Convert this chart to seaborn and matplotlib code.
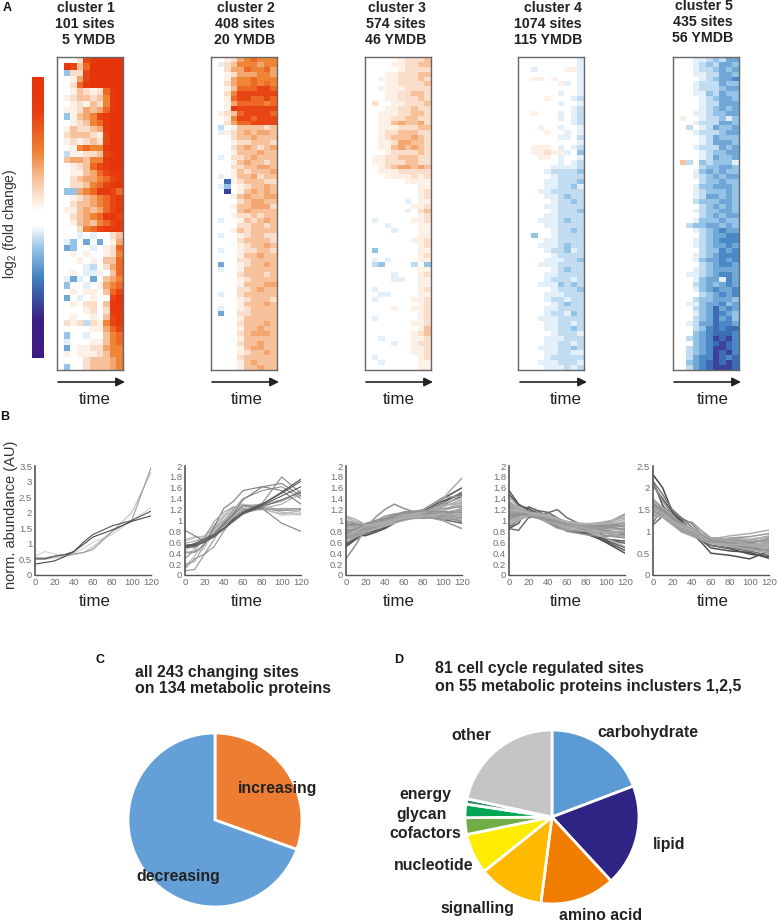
import matplotlib
matplotlib.use('Agg')
import matplotlib.pyplot as plt
import numpy as np
import pandas as pd
import seaborn as sns
from matplotlib.colors import LinearSegmentedColormap
from matplotlib.patches import FancyArrowPatch

W, H = 777, 924

sns.set_theme(style='white')
plt.rcParams['font.family'] = ['Liberation Sans', 'DejaVu Sans']
plt.rcParams['mathtext.default'] = 'regular'

# Heatmap rows: 0 white, 1-9 orange to red, a-g pale blue to navy
CLUSTER1 = [
    "0002789999", "0873699999", "0c22799999", "0014799999", "0026899999",
    "0013212689", "0123323589", "0012132589", "0112434689", "0c13457899",
    "0012356899", "0132234899", "0233321799", "0121232799", "0015655899",
    "0b11223789", "0344355899", "0012367899", "0011346788", "0023445678",
    "0022356789", "0cc4568876", "0012345678", "0023345678", "0113434678",
    "0023456887", "0013435678", "0002567888", "000a0a0023", "0ac0d0d014",
    "0dc00a0126", "0010100125", "0001010336", "0000ab0246", "0010aa1036",
    "0ada0d0345", "0c00a01456", "0010110367", "0d0a010079", "0010220389",
    "0000120288", "0010010378", "0212b21578", "0000011467", "0c00a00356",
    "0a00011356", "0d01122455", "0101112355", "0000233345", "0c00233345",
]
CLUSTER2 = [
    "0012456555", "0a23555455", "0024465564", "0012444554", "0014556555",
    "0024556565", "0013666776", "0025777777", "0016776676", "0014666656",
    "0018777777", "0123677776", "0015776777", "0024667777", "0b01333323",
    "0a12343443", "0002334333", "0001223332", "0002343234", "0001333433",
    "0a02234333", "0001343323", "0002233443", "0001323334", "0a01334233",
    "00f1233322", "0ac0123343", "00g0134343", "0001343344", "0000234433",
    "0001334442", "0000343333", "0001223233", "0a00132343", "0000223323",
    "0001323333", "0a00123322", "0000233332", "0000123343", "0a00122332",
    "0000133433", "0000223333", "0d00123343", "0a00133333", "0000233323",
    "0000123333", "0000133344", "0000223433", "0a00233333", "0000123332",
    "0000133343", "0a00123333", "0d00223333", "0000133333", "0000233343",
    "0000133433", "0000234443", "0000133333", "0000233433", "0000134433",
    "0000123343", "0000233333", "0000134333", "0000133433",
]
CLUSTER3 = [
    "0000012223", "0000112233", "0000012222", "0001122233", "0011122232",
    "0001122223", "0011112222", "0001122332", "0001122232", "0200112223",
    "0001122322", "0011122332", "0011223322", "0011343342", "0011122233",
    "0012233322", "0012333432", "0011244332", "0011343432", "0001222232",
    "0112233322", "0112223322", "0012344343", "0011122222", "0001111212",
    "0000001111", "0000000011", "0000000012", "0000000012", "000000a011",
    "0000000112", "000000a023", "0000000012", "0a00000112", "000a000011",
    "0000a00011", "0000000011", "0000000112", "0000000012", "0c00000011",
    "0000000012", "0a0a000011", "0bc0000b0c", "0000000011", "0000a00012",
    "0000aa0011", "0000000011", "0a00000012", "00aa000011", "0a00000112",
    "0000000012", "0000100112", "0000000012", "0a00000012", "0000000112",
    "0000000013", "0000000123", "00a0000112", "0000a00122", "0000000112",
    "0000000112", "0a00000012", "00a0000011", "0000000011",
]
CLUSTER4 = [
    "000000000a", "000000000a", "00a000011a", "000000000a", "001101000a",
    "0000001a0a", "000000000a", "000000a00a", "00001000ab", "000000a00a",
    "00000000ab", "001000a0ab", "000000a0ab", "00000000ab", "000100a00a",
    "0000100a0a", "000000aa0b", "000000000a", "001110a0ab", "0011211a0c",
    "000110a00a", "000000a0ab", "00000aaaab", "0000abbbbc", "00000abbbb",
    "0000aabbbc", "0000aabbca", "000aabbbbb", "0000aabcbb", "00000abbcb",
    "0000aabbbb", "00000abbbc", "0000aabbbb", "000aaabcbb", "0000aabbbb",
    "00000abbcb", "00c00abbbb", "0000aabbbb", "000aaabcbb", "0000abbcab",
    "00000abbbb", "0000aaabbc", "000aaabbbb", "00000abcbb", "0000aabbbb",
    "0000abbbab", "000aaacbcb", "00000abbbc", "0000aaabbb", "0000abbabb",
    "00000abcbb", "0000aabbbb", "0000abbacb", "000aaabbbb", "0000aabbab",
    "0000aabbcb", "00000abbba", "0000aaabbb", "0000aabbab", "000aaabbcb",
    "0000aabbaa", "0000abbbbb", "000aaabbba", "0000aaabab",
]
CLUSTER5 = [
    "000aabcbdd", "000abcbddc", "000abbcdcd", "000aabbddc", "0000abcdde",
    "000abbbdcc", "000abbbcdd", "000aacbdcc", "0000abcddc", "0000abbddd",
    "0000abcdcd", "000aabccdd", "0100abbcac", "000abbbddc", "00b0abdccd",
    "000abbbcdd", "0000abdccc", "0000abdddc", "000abbbdcd", "0000abccdd",
    "0000abdccd", "03b0cbccca", "0000bccddc", "000acdcdcc", "000abcdcdd",
    "0000bccdcc", "000accdddc", "000abcccdc", "000abddcdc", "000bcccddc",
    "0000bcdcdc", "000abccddc", "0000bcdcdd", "000acccdcc", "00bccddcdc",
    "000abcdedd", "0000bcddee", "000abcdeee", "000abcdded", "0000bccede",
    "000abcdeee", "000acddede", "0000bcdeed", "000abcdddd", "00aabcdeed",
    "000acddaed", "000bcdcded", "000acdedde", "0000bcdede", "000bccdddc",
    "00aacddecd", "000bcdfded", "000acdfedc", "000bcdfdec", "00abddfeed",
    "000bcefeff", "000cdefffe", "00bcdegfge", "000cdefgfe", "00bcdeggfe",
    "00bcdegfge", "00bdeegfef", "00cdefgfgf", "00bdefgggf",
]
CLUSTERS = [CLUSTER1, CLUSTER2, CLUSTER3, CLUSTER4, CLUSTER5]
LEVELS = {'0': 0, '1': 0.9, '2': 1.5, '3': 2.4, '4': 3.2, '5': 4.2, '6': 5.2, '7': 6.5, '8': 7.5, '9': 9.0,
          'a': -0.9, 'b': -1.4, 'c': -2.0, 'd': -2.8, 'e': -3.6, 'f': -4.4, 'g': -5.6}
HEADERS = [
    ["cluster 1", "101 sites", "5 YMDB"],
    ["cluster 2", "408 sites", "20 YMDB"],
    ["cluster 3", "574 sites", "46 YMDB"],
    ["cluster 4", "1074 sites", "115 YMDB"],
    ["cluster 5", "435 sites", "56 YMDB"],
]

# Abundance traces read by eye, one row per site
TIMES = [0, 10, 20, 30, 40, 50, 60, 80, 100, 120]
TRACES1 = [
    [.60, .75, .68, .65, .70, .85, 1.05, 1.30, 1.75, 2.15],
    [.50, .50, .55, .60, .65, .72, .90, 1.40, 2.00, 3.30],
    [.55, .55, .60, .65, .68, .72, .82, 1.40, 1.75, 3.45],
    [.52, .52, .60, .65, .75, 1.05, 1.30, 1.58, 1.75, 2.05],
    [.35, .40, .45, .58, .75, .98, 1.22, 1.45, 1.72, 1.90],
]
TRACES2 = [
    [.62, .68, .72, .82, .95, 1.12, 1.22, 1.22, 1.12, 1.10],
    [.30, .50, .70, .90, 1.05, 1.18, 1.28, 1.25, 1.20, 1.15],
    [.15, .35, .60, .85, 1.08, 1.22, 1.30, 1.25, 1.15, 1.12],
    [.58, .62, .68, .78, .92, 1.08, 1.20, 1.22, 1.30, 1.50],
    [.45, .55, .72, .92, 1.10, 1.22, 1.28, 1.30, 1.38, 1.45],
    [.12, .30, .38, .65, .95, 1.20, 1.40, 1.55, 1.62, 1.40],
    [.65, .70, .70, .85, 1.05, 1.18, 1.15, 1.20, 1.12, 1.18],
    [.40, .42, .48, .80, 1.10, 1.25, 1.30, 1.22, 1.10, 1.12],
    [.20, .25, .55, .85, 1.00, 1.15, 1.25, 1.28, 1.35, 1.55],
    [.55, .50, .62, .80, .98, 1.12, 1.22, 1.25, 1.20, 1.22],
    [.08, .10, .38, .52, .80, 1.05, 1.18, 1.22, 1.18, 1.20],
    [.82, .72, .62, .75, .95, 1.10, 1.28, 1.22, .95, .80],
    [.42, .42, .55, .88, 1.22, 1.35, 1.55, 1.62, 1.55, 1.30],
    [.50, .55, .62, .75, .92, 1.12, 1.38, 1.62, 1.68, 1.45],
    [.52, .55, .62, .75, .90, 1.05, 1.18, 1.32, 1.80, 1.50],
    [.30, .45, .68, .98, 1.15, 1.25, 1.22, 1.20, 1.22, 1.22],
    [.55, .56, .62, .72, .85, 1.02, 1.15, 1.30, 1.50, 1.72],
    [.52, .54, .60, .70, .84, 1.00, 1.14, 1.30, 1.52, 1.76],
    [.52, .58, .66, .74, .86, 1.02, 1.12, 1.28, 1.45, 1.62],
    [.50, .52, .62, .72, .84, .98, 1.12, 1.25, 1.38, 1.52],
]
TRACES3 = [
    [.52, .65, .78, .82, .86, .96, 1.05, 1.18, 1.40, 1.60],
    [.58, .68, .75, .80, .88, .98, 1.08, 1.15, 1.32, 1.52],
    [.72, .74, .72, .78, .85, .95, 1.05, 1.15, 1.28, 1.45],
    [.65, .72, .80, .85, .92, 1.00, 1.08, 1.12, 1.10, .98],
    [.76, .78, .82, .88, .94, 1.02, 1.05, 1.08, 1.02, .95],
    [.55, .68, .82, .92, .95, 1.02, 1.06, 1.18, 1.36, 1.48],
    [.30, .55, .85, 1.05, 1.20, 1.30, 1.22, 1.10, 1.10, 1.05],
    [1.08, 1.02, .92, .88, .90, .95, 1.02, 1.20, 1.40, 1.78],
    [1.00, .95, .88, .92, .98, 1.08, 1.12, 1.20, 1.42, 1.45],
    [.88, .88, .92, .95, 1.00, 1.05, 1.10, 1.12, 1.18, 1.28],
    [.82, .85, .88, .92, .96, 1.02, 1.06, 1.10, 1.12, 1.22],
    [.92, .90, .88, .90, .95, 1.00, 1.06, 1.12, 1.18, 1.35],
    [.70, .76, .84, .88, .92, 1.00, 1.02, 1.06, 1.12, 1.15],
    [.78, .82, .86, .90, .98, 1.06, 1.08, 1.05, 1.08, 1.12],
    [.90, .92, .92, .96, 1.02, 1.06, 1.08, 1.06, 1.02, 1.05],
    [.66, .74, .82, .86, .90, .96, 1.00, 1.08, 1.18, 1.30],
    [.96, .94, .90, .93, 1.00, 1.04, 1.10, 1.14, 1.22, 1.25],
    [.74, .78, .88, .95, 1.04, 1.08, 1.12, 1.10, 1.08, 1.02],
    [.84, .82, .84, .88, .94, .98, 1.02, 1.10, 1.15, 1.18],
    [.60, .70, .78, .84, .90, 1.00, 1.06, 1.14, 1.25, 1.38],
    [.80, .86, .92, .98, 1.08, 1.12, 1.14, 1.08, 1.00, .85],
    [.86, .88, .86, .90, .96, 1.04, 1.08, 1.08, 1.14, 1.20],
    [.94, .92, .94, .98, 1.02, 1.08, 1.14, 1.16, 1.10, 1.10],
    [.72, .80, .90, .90, .96, 1.02, 1.08, 1.16, 1.28, 1.32],
    [.68, .76, .86, .92, 1.00, 1.04, 1.04, 1.04, 1.06, .98],
    [.88, .86, .90, .94, .98, 1.02, 1.06, 1.14, 1.30, 1.42],
    [.78, .84, .94, 1.00, 1.04, 1.10, 1.16, 1.18, 1.16, 1.15],
    [1.05, .98, .92, .90, .94, 1.00, 1.04, 1.08, 1.12, 1.08],
]
TRACES4 = [
    [.85, .95, 1.25, 1.18, 1.05, .95, .85, .75, .62, .45],
    [1.48, 1.28, 1.22, 1.12, 1.02, .92, .85, .78, .60, .40],
    [1.55, 1.30, 1.18, 1.10, 1.00, .92, .84, .76, .64, .50],
    [.88, 1.00, 1.15, 1.18, 1.15, 1.05, .95, .80, .66, .58],
    [1.25, 1.15, 1.10, 1.05, .98, .88, .82, .76, .66, .62],
    [.85, .82, 1.05, 1.08, 1.14, 1.20, 1.05, .88, .72, .70],
    [1.30, 1.25, 1.15, 1.08, 1.00, .90, .80, .74, .70, .75],
    [1.42, 1.25, 1.15, 1.10, 1.02, .92, .84, .80, .68, .52],
    [1.20, 1.18, 1.12, 1.05, .96, .86, .82, .80, .78, .68],
    [.95, 1.02, 1.10, 1.08, 1.05, 1.00, .94, .88, .90, .98],
    [1.15, 1.14, 1.12, 1.10, 1.06, .98, .92, .90, .94, 1.12],
    [1.05, 1.08, 1.12, 1.12, 1.08, 1.00, .94, .86, .82, .85],
    [1.28, 1.20, 1.14, 1.08, 1.00, .94, .90, .84, .78, .72],
    [1.00, 1.05, 1.08, 1.08, 1.02, .96, .90, .84, .80, .78],
    [1.12, 1.12, 1.10, 1.08, 1.04, .98, .92, .90, .90, .95],
    [.92, 1.00, 1.08, 1.10, 1.08, 1.02, .98, .92, .94, 1.02],
    [1.35, 1.22, 1.15, 1.12, 1.05, .96, .90, .82, .72, .68],
    [1.18, 1.15, 1.10, 1.04, .98, .92, .88, .86, .85, .82],
    [1.08, 1.10, 1.12, 1.14, 1.10, 1.04, .96, .88, .82, .75],
    [1.22, 1.16, 1.12, 1.06, 1.02, .96, .90, .92, .98, 1.05],
    [1.02, 1.08, 1.15, 1.12, 1.06, 1.00, .92, .86, .86, .90],
    [1.26, 1.20, 1.16, 1.12, 1.04, .94, .86, .80, .78, .80],
    [1.10, 1.12, 1.10, 1.06, 1.02, .98, .94, .90, .92, .88],
    [.98, 1.04, 1.10, 1.12, 1.10, 1.04, .98, .94, .96, 1.08],
    [1.16, 1.14, 1.08, 1.04, 1.00, .96, .92, .88, .88, .92],
    [1.32, 1.22, 1.14, 1.10, 1.06, 1.00, .94, .86, .76, .70],
    [1.06, 1.10, 1.14, 1.10, 1.04, .98, .94, .92, .88, .84],
    [1.20, 1.18, 1.14, 1.10, 1.06, 1.02, .96, .92, .94, .96],
]
TRACES5 = [
    [2.30, 2.00, 1.45, 1.25, 1.00, .85, .68, .60, .48, .42],
    [2.15, 1.60, 1.30, 1.15, .95, .75, .50, .45, .37, .55],
    [1.15, 1.35, 1.40, 1.20, 1.00, .82, .68, .62, .55, .45],
    [1.20, 1.55, 1.42, 1.30, 1.18, .95, .78, .72, .60, .58],
    [2.05, 1.75, 1.45, 1.20, .95, .80, .62, .55, .52, .38],
    [2.15, 1.85, 1.50, 1.30, 1.10, .92, .78, .70, .60, .50],
    [2.10, 1.70, 1.38, 1.15, 1.00, .88, .75, .65, .58, .72],
    [1.75, 1.55, 1.35, 1.18, 1.05, .88, .82, .90, .95, 1.03],
    [1.65, 1.48, 1.30, 1.05, .90, .82, .78, .85, .88, .95],
    [1.55, 1.45, 1.25, 1.02, .92, .85, .85, .82, .78, .90],
    [1.50, 1.40, 1.20, 1.00, 1.05, .92, .80, .72, .60, .52],
    [1.45, 1.38, 1.22, 1.10, 1.00, .88, .78, .74, .68, .60],
    [1.60, 1.50, 1.30, 1.15, 1.02, .90, .76, .70, .65, .70],
    [1.40, 1.35, 1.18, 1.05, .98, .86, .80, .78, .74, .80],
    [1.55, 1.42, 1.20, 1.05, .95, .84, .74, .68, .62, .66],
    [1.48, 1.36, 1.25, 1.12, 1.06, .94, .84, .80, .72, .68],
    [1.70, 1.52, 1.32, 1.18, 1.22, 1.02, .85, .82, .76, .78],
    [1.35, 1.32, 1.15, .98, .90, .80, .72, .66, .58, .52],
    [1.52, 1.44, 1.28, 1.12, 1.00, .86, .78, .76, .72, .85],
    [1.44, 1.40, 1.22, 1.08, 1.02, .90, .82, .76, .66, .62],
    [1.58, 1.46, 1.26, 1.10, .96, .82, .76, .72, .70, .74],
    [1.38, 1.34, 1.20, 1.06, .94, .84, .80, .84, .82, .88],
    [1.62, 1.48, 1.34, 1.16, 1.04, .92, .80, .74, .64, .56],
    [1.50, 1.42, 1.24, 1.10, 1.04, .88, .74, .70, .68, .76],
    [1.46, 1.38, 1.18, 1.02, .92, .82, .76, .74, .76, .82],
    [1.56, 1.40, 1.22, 1.14, 1.08, .96, .84, .78, .70, .64],
]
TRACES = [TRACES1, TRACES2, TRACES3, TRACES4, TRACES5]
TRACE_GREYS = [
    ['#d2d2d2', '#bdbdbd', '#9a9a9a', '#555555', '#484848'],
    ['#c8c8c8', '#c0c0c0', '#b8b8b8', '#a8a8a8', '#c0c0c0', '#909090', '#b8b8b8', '#c4c4c4', '#a0a0a0', '#b0b0b0',
     '#909090', '#808080', '#7c7c7c', '#7c7c7c', '#8a8a8a', '#a0a0a0', '#5a5a5a', '#505050', '#5a5a5a', '#666666'],
    ['#555555', '#666666', '#555555', '#777777', '#666666', '#555555'],
    ['#5a5a5a', '#505050', '#5a5a5a', '#666666', '#5a5a5a', '#707070'],
    ['#484848', '#505050', '#707070', '#808080', '#505050', '#777777'],
]
LIGHT_GREYS = ['#9a9a9a', '#a8a8a8', '#929292', '#adadad']
TRACE_WIDTHS = [0.8, 0.8, 1.1, 1.1, 1.1]
YTICKS = [
    [0, .5, 1, 1.5, 2, 2.5, 3, 3.5],
    [0, .2, .4, .6, .8, 1, 1.2, 1.4, 1.6, 1.8, 2],
    [0, .2, .4, .6, .8, 1, 1.2, 1.4, 1.6, 1.8, 2],
    [0, .2, .4, .6, .8, 1, 1.2, 1.4, 1.6, 1.8, 2],
    [0, .5, 1, 1.5, 2, 2.5],
]
XTICKS = [0, 20, 40, 60, 80, 100, 120]

PIE_C_LABELS = ["increasing", "decreasing"]
PIE_C_VALUES = [30.5, 69.5]
PIE_C_COLORS = ['#ed7d31', '#659fd8']
PIE_D_LABELS = ["carbohydrate", "lipid", "amino acid", "signalling", "nucleotide",
                "cofactors", "glycan", "energy", "other"]
PIE_D_VALUES = [19.2, 18.9, 13.9, 12.2, 7.5, 3.1, 2.5, 1.0, 21.6]
PIE_D_COLORS = ['#5b9bd5', '#2e2483', '#f07d00', '#ffb900', '#ffec00',
                '#70ad47', '#00a651', '#2e8b6a', '#c4c4c4']


def place(left, top, right, bottom):
    return fig.add_axes([left / W, 1 - bottom / H, (right - left) / W, (bottom - top) / H])


def label(x, y, text, **kw):
    kw.setdefault('ha', 'center')
    kw.setdefault('va', 'center')
    kw.setdefault('color', '#222222')
    fig.text(x / W, 1 - y / H, text, **kw)


def decode(rows):
    return np.array([[LEVELS[c] for c in row] for row in rows], dtype=float)


fig = plt.figure(figsize=(W / 100, H / 100), dpi=100)

# log2 colour scale, nodes taken from the bar on the left of panel A
cmap = LinearSegmentedColormap.from_list('fold', [
    (0.0, '#3f1c84'), (0.135, '#3c1f85'), (0.28, '#3d7cbf'), (0.384, '#8fc0e5'),
    (0.473, '#ffffff'), (0.52, '#ffffff'), (0.616, '#f8cdb0'), (0.74, '#ef7f2f'),
    (0.883, '#e63c0e'), (1.0, '#e5330a'),
])

# A: heatmaps
heat_left = [57, 211, 365, 518, 673]
header_right = [115, 275, 426, 582, 733]
header_top = [8, 8, 8, 8, 6]
arrow_left = [58, 212, 366, 520, 674]
time_x = [95, 247, 399, 566, 713]
cbar_ax = place(32, 77, 44, 358)
for i, rows in enumerate(CLUSTERS):
    ax = place(heat_left[i], 57, heat_left[i] + 66, 370)
    sns.heatmap(decode(rows), ax=ax, cmap=cmap, vmin=-9, vmax=9, xticklabels=False, yticklabels=False,
                cbar=i == 0, cbar_ax=cbar_ax if i == 0 else None, cbar_kws={'ticks': []})
    for s in ax.spines.values():
        s.set_visible(True)
        s.set_color('#666666')
        s.set_linewidth(1)
    for j, line in enumerate(HEADERS[i]):
        label(header_right[i], header_top[i] + j * 16, line, ha='right', fontsize=10.2, fontweight='bold')
    fig.add_artist(FancyArrowPatch((arrow_left[i] / W, 1 - 382 / H), ((arrow_left[i] + 67) / W, 1 - 382 / H),
                                   transform=fig.transFigure, arrowstyle='-|>', mutation_scale=13,
                                   lw=1.2, color='#222222', shrinkA=0, shrinkB=0))
    label(time_x[i], 399, "time", fontsize=12.2)
for s in cbar_ax.spines.values():
    s.set_visible(False)
label(10, 224, r"log$_2$ (fold change)", rotation=90, fontsize=10, color='#333333')

# B: abundance traces
line_left = [35, 185, 346, 509, 653]
for i, rows in enumerate(TRACES):
    ax = place(line_left[i], 466, line_left[i] + 116, 575)
    df = pd.DataFrame(rows, columns=TIMES).rename_axis('site').reset_index()
    df = df.melt(id_vars='site', var_name='minutes', value_name='abundance')
    greys = TRACE_GREYS[i]
    palette = [greys[k] if k < len(greys) else LIGHT_GREYS[k % len(LIGHT_GREYS)] for k in range(len(rows))]
    sns.lineplot(data=df, x='minutes', y='abundance', hue='site', palette=palette, units='site',
                 estimator=None, legend=False, linewidth=TRACE_WIDTHS[i], ax=ax)
    ax.set_xlim(0, 120)
    ax.set_ylim(0, YTICKS[i][-1])
    ax.set_xticks(XTICKS)
    ax.set_yticks(YTICKS[i])
    ax.set_xticklabels([str(t) for t in XTICKS])
    ax.set_yticklabels([f'{t:g}' for t in YTICKS[i]])
    ax.tick_params(length=0, pad=2, labelsize=6.8, labelcolor='#707070')
    for t in ax.get_xticklabels() + ax.get_yticklabels():
        t.set_family(['Liberation Sans Narrow', 'Liberation Sans'])
    ax.set_xlabel('')
    ax.set_ylabel('')
    sns.despine(ax=ax)
    ax.spines['left'].set_color('#555555')
    ax.spines['left'].set_linewidth(1.2)
    ax.spines['bottom'].set_color('#555555')
    ax.spines['bottom'].set_linewidth(1)
    label(time_x[i], 601, "time", fontsize=12.2)
label(11, 515, "norm. abundance (AU)", rotation=90, fontsize=10.5, color='#333333')

# C and D: pies
ax = place(128, 733, 302, 907)
ax.pie(PIE_C_VALUES, colors=PIE_C_COLORS, startangle=90, counterclock=False,
       wedgeprops={'edgecolor': 'white', 'linewidth': 2})
ax.set_xlim(-1, 1)
ax.set_ylim(-1, 1)
ax = place(465, 730, 639, 904)
ax.pie(PIE_D_VALUES, colors=PIE_D_COLORS, startangle=90, counterclock=False,
       wedgeprops={'edgecolor': 'white', 'linewidth': 2})
ax.set_xlim(-1, 1)
ax.set_ylim(-1, 1)

pie_text = dict(fontsize=11.4, fontweight='bold')
label(278, 788, PIE_C_LABELS[0], **pie_text)
label(178, 876, PIE_C_LABELS[1], **pie_text)
label_xy = [(648, 733), (669, 845), (601, 916), (477, 908), (434, 866), (425, 833), (422, 814), (425, 795), (471, 736)]
for name, (x, y) in zip(PIE_D_LABELS, label_xy):
    label(x, y, name, **pie_text)
label(135, 672, "all 243 changing sites", ha='left', **pie_text)
label(135, 689, "on 134 metabolic proteins", ha='left', **pie_text)
label(435, 668, "81 cell cycle regulated sites", ha='left', **pie_text)
label(435, 686, "on 55 metabolic proteins inclusters 1,2,5", ha='left', **pie_text)

label(7, 8, "A", fontsize=9, fontweight='bold', color='#111111')
label(5, 417, "B", fontsize=9, fontweight='bold', color='#111111')
label(100, 660, "C", fontsize=9, fontweight='bold', color='#111111')
label(399, 660, "D", fontsize=9, fontweight='bold', color='#111111')

fig.savefig('out.png', dpi=100)
